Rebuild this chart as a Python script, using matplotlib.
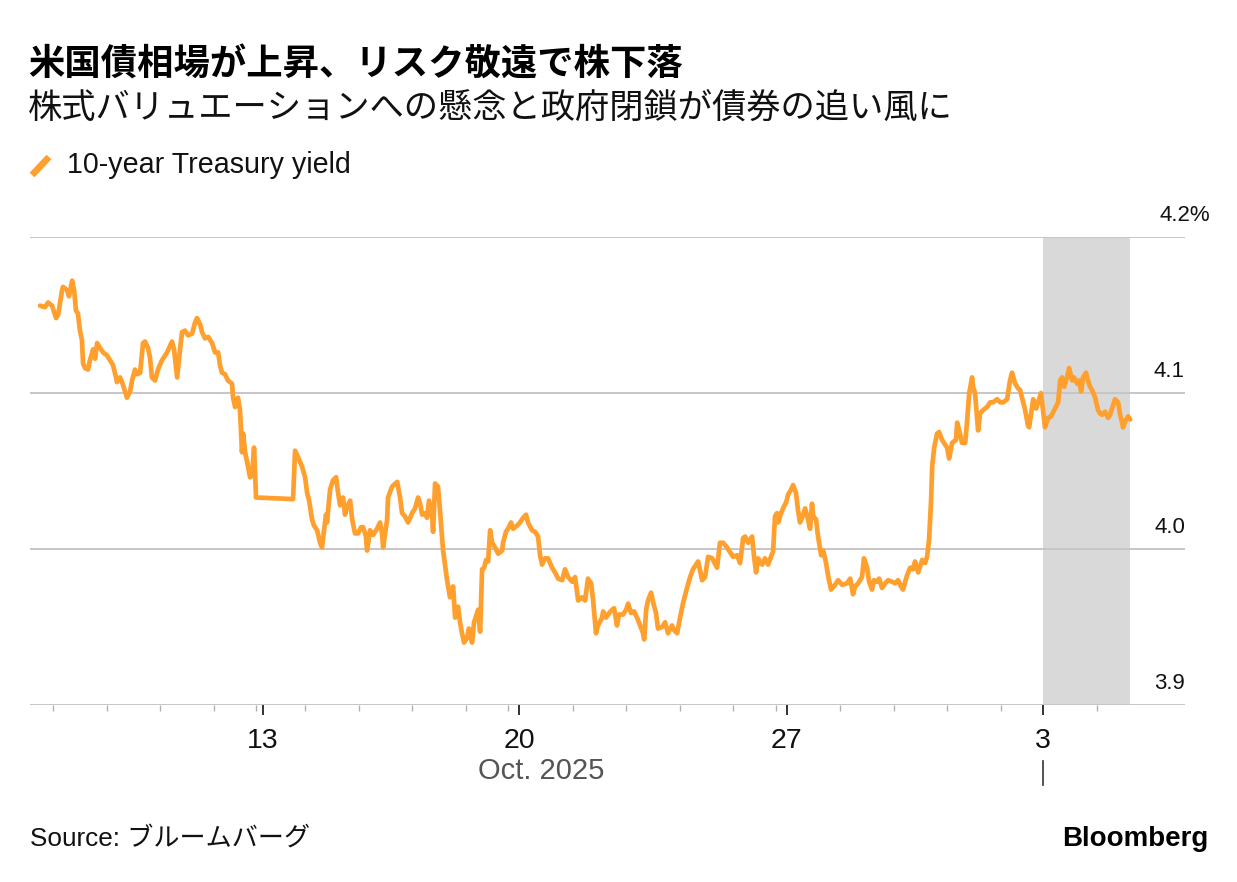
import numpy as np
import pandas as pd
import matplotlib
matplotlib.use("Agg")
import matplotlib.pyplot as plt
from matplotlib.lines import Line2D
import matplotlib.transforms as mtransforms

# ── DATA ───────────────────────────────────────────────────────────────────────
# x axis = trading hours since the first print (Oct 6, evening); weekends removed
BOUNDARY_DATES = ["2025-10-07", "2025-10-08", "2025-10-09", "2025-10-10", "2025-10-12",
                  "2025-10-13", "2025-10-14", "2025-10-15", "2025-10-16", "2025-10-17",
                  "2025-10-19", "2025-10-20", "2025-10-21", "2025-10-22", "2025-10-23",
                  "2025-10-24", "2025-10-26", "2025-10-27", "2025-10-28", "2025-10-29",
                  "2025-10-30", "2025-10-31", "2025-11-03", "2025-11-04"]
BOUNDARY_GAP_H = [6, 24, 24, 24, 19, 3, 19, 24, 24, 24, 19, 5, 24, 24, 24, 24,
                  19, 5, 24, 24, 24, 24, 19, 24]
SHADE_FROM = "2025-11-03"

HOURS = [0.0, 2.2, 3.6, 5.4, 7.2, 8.1, 9.9, 10.3, 12.1, 13.0, 14.4, 15.3, 16.1, 17.0,
         17.9, 18.8, 19.3, 20.2, 21.5, 22.4, 23.8, 24.7, 25.6, 26.9, 28.3, 30.1, 31.4,
         32.7, 34.1, 34.5, 35.9, 36.8, 38.1, 39.0, 40.4, 41.3, 42.6, 43.5, 44.9, 46.2,
         47.1, 48.4, 49.3, 50.2, 51.6, 52.9, 54.7, 57.0, 59.2, 60.1, 61.5, 62.8, 63.7,
         65.0, 66.4, 68.2, 69.5, 70.4, 71.8, 72.7, 74.0, 75.4, 77.2, 78.5, 79.9, 80.7,
         81.6, 83.0, 84.3, 86.1, 86.6, 87.5, 88.8, 89.7, 90.6, 91.1, 92.0, 93.3, 94.2,
         95.1, 96.0, 96.9, 113.5, 114.4, 115.7, 117.5, 118.9, 119.8, 120.7, 122.0,
         122.9, 124.3, 125.6, 126.5, 127.4, 128.3, 128.7, 130.1, 131.4, 132.8, 133.7,
         134.6, 135.9, 136.8, 137.7, 139.1, 140.0, 141.3, 142.7, 144.0, 144.9, 146.2,
         146.7, 148.0, 149.4, 151.2, 152.5, 153.4, 153.9, 155.7, 156.1, 157.9, 160.2,
         161.5, 162.4, 163.7, 165.1, 166.9, 168.2, 169.6, 170.5, 171.4, 172.7, 173.6,
         174.5, 175.9, 176.3, 177.2, 178.5, 179.4, 180.8, 182.6, 183.9, 185.3, 186.2,
         187.5, 188.4, 189.3, 190.2, 191.5, 192.4, 193.8, 194.7, 196.5, 197.4, 198.3,
         199.2, 200.1, 201.0, 201.9, 202.8, 204.1, 205.5, 207.3, 207.7, 209.0, 209.9,
         211.3, 212.2, 214.0, 215.3, 216.7, 218.0, 218.9, 220.7, 222.1, 223.4, 224.3,
         225.2, 226.5, 227.9, 229.7, 231.0, 232.4, 234.2, 235.5, 236.9, 238.7, 240.0,
         241.4, 243.1, 244.5, 245.8, 247.2, 248.1, 249.4, 250.3, 252.1, 252.6, 253.9,
         255.3, 256.6, 257.5, 258.8, 259.7, 261.5, 262.9, 263.8, 265.1, 266.5, 267.8,
         269.2, 270.5, 271.0, 271.9, 272.7, 274.1, 275.0, 276.3, 277.2, 279.0, 280.4,
         281.7, 283.5, 284.4, 285.8, 287.1, 288.4, 290.2, 291.6, 292.9, 294.7, 295.2,
         297.0, 298.3, 299.7, 301.5, 303.7, 305.0, 306.4, 308.2, 309.5, 310.9, 312.7,
         314.0, 315.4, 316.3, 317.6, 319.4, 320.3, 321.2, 322.1, 323.9, 325.2, 326.6,
         328.4, 328.8, 329.7, 330.6, 331.1, 332.4, 333.3, 334.7, 335.6, 336.9, 337.8,
         339.1, 340.0, 340.9, 341.8, 343.2, 344.5, 345.4, 346.3, 346.8, 348.1, 349.0,
         350.4, 351.3, 352.6, 353.5, 354.8, 356.6, 358.0, 359.8, 362.0, 363.4, 364.7,
         365.6, 367.0, 368.7, 369.6, 371.0, 371.9, 373.2, 374.1, 375.5, 376.4, 377.7,
         379.1, 380.4, 382.2, 383.6, 384.9, 386.2, 387.1, 388.9, 390.3, 391.6, 392.5,
         393.9, 395.7, 397.0, 397.9, 398.8, 399.7, 400.2, 401.1, 402.4, 403.3, 404.6,
         406.0, 406.9, 407.8, 409.1, 410.0, 410.9, 411.4, 412.3, 413.6, 415.0, 415.8,
         416.8, 418.1, 418.5, 419.4, 420.8, 421.7, 423.0, 424.8, 426.2, 427.5, 429.3,
         430.7, 432.0, 433.8, 435.1, 436.0, 437.4, 438.7, 439.6, 440.5, 441.9, 443.2,
         443.7, 444.6, 445.5, 446.8, 447.7, 449.0, 449.9, 450.8, 452.2, 453.5, 454.9,
         456.7, 457.6, 458.5, 459.4, 460.7, 461.6, 463.0, 463.9, 465.2, 466.1, 467.0,
         467.9, 469.2, 470.1, 471.0, 471.9, 473.3, 474.6, 475.5, 476.4, 477.8, 479.1,
         480.0, 480.9, 482.2, 483.6, 484.5, 485.4, 485.8, 487.2, 488.1, 489.0]

YIELD_PCT = [4.156, 4.155, 4.158, 4.156, 4.148, 4.150, 4.166, 4.168, 4.166, 4.162, 4.172,
             4.166, 4.153, 4.151, 4.140, 4.134, 4.119, 4.116, 4.115, 4.121, 4.128, 4.122,
             4.132, 4.129, 4.126, 4.124, 4.121, 4.118, 4.110, 4.107, 4.110, 4.107, 4.101,
             4.097, 4.101, 4.108, 4.115, 4.112, 4.113, 4.132, 4.133, 4.129, 4.123, 4.110,
             4.108, 4.115, 4.121, 4.126, 4.133, 4.128, 4.110, 4.128, 4.139, 4.140, 4.137,
             4.138, 4.145, 4.148, 4.144, 4.139, 4.135, 4.136, 4.132, 4.126, 4.126, 4.118,
             4.113, 4.112, 4.108, 4.106, 4.097, 4.091, 4.097, 4.089, 4.062, 4.074, 4.062,
             4.053, 4.046, 4.047, 4.065, 4.033, 4.032, 4.063, 4.059, 4.053, 4.046, 4.036,
             4.031, 4.019, 4.015, 4.012, 4.004, 4.001, 4.012, 4.022, 4.017, 4.038, 4.044,
             4.046, 4.036, 4.028, 4.033, 4.022, 4.027, 4.031, 4.019, 4.010, 4.010, 4.014,
             4.014, 4.008, 3.999, 4.012, 4.009, 4.013, 4.017, 4.010, 4.001, 4.019, 4.033,
             4.040, 4.043, 4.033, 4.023, 4.021, 4.017, 4.023, 4.026, 4.033, 4.029, 4.022,
             4.023, 4.020, 4.031, 4.021, 4.011, 4.042, 4.040, 4.025, 3.999, 3.980, 3.969,
             3.976, 3.956, 3.963, 3.953, 3.946, 3.940, 3.943, 3.949, 3.940, 3.953, 3.961,
             3.947, 3.987, 3.988, 3.993, 3.992, 4.012, 4.004, 4.001, 3.997, 3.999, 4.004,
             4.011, 4.013, 4.017, 4.013, 4.015, 4.017, 4.020, 4.022, 4.017, 4.012, 4.011,
             4.008, 3.996, 3.990, 3.994, 3.994, 3.988, 3.985, 3.981, 3.980, 3.987, 3.982,
             3.979, 3.982, 3.967, 3.969, 3.967, 3.981, 3.978, 3.967, 3.946, 3.951, 3.956,
             3.960, 3.956, 3.959, 3.961, 3.962, 3.951, 3.958, 3.958, 3.961, 3.965, 3.959,
             3.960, 3.956, 3.951, 3.946, 3.942, 3.961, 3.967, 3.972, 3.966, 3.959, 3.949,
             3.950, 3.953, 3.946, 3.951, 3.948, 3.946, 3.956, 3.965, 3.975, 3.982, 3.987,
             3.991, 3.992, 3.980, 3.982, 3.995, 3.994, 3.988, 4.004, 4.004, 4.001, 3.998,
             3.995, 3.996, 3.991, 4.007, 4.008, 4.004, 4.008, 3.995, 3.985, 3.994, 3.990,
             3.994, 3.990, 3.997, 3.998, 4.021, 4.023, 4.017, 4.023, 4.026, 4.030, 4.035,
             4.038, 4.041, 4.036, 4.025, 4.017, 4.020, 4.026, 4.019, 4.013, 4.029, 4.021,
             4.019, 4.008, 3.996, 3.999, 3.991, 3.983, 3.974, 3.977, 3.980, 3.977, 3.978,
             3.981, 3.971, 3.976, 3.978, 3.982, 3.994, 3.988, 3.979, 3.974, 3.980, 3.979,
             3.981, 3.975, 3.978, 3.980, 3.979, 3.978, 3.980, 3.976, 3.974, 3.983, 3.988,
             3.987, 3.992, 3.985, 3.993, 3.991, 3.995, 4.006, 4.031, 4.053, 4.065, 4.074,
             4.075, 4.070, 4.067, 4.065, 4.058, 4.068, 4.069, 4.070, 4.081, 4.076, 4.068,
             4.068, 4.081, 4.100, 4.110, 4.104, 4.100, 4.076, 4.087, 4.089, 4.091, 4.094,
             4.094, 4.096, 4.094, 4.094, 4.096, 4.108, 4.113, 4.106, 4.103, 4.102, 4.097,
             4.089, 4.079, 4.078, 4.087, 4.096, 4.090, 4.094, 4.100, 4.089, 4.078, 4.084,
             4.085, 4.089, 4.094, 4.108, 4.110, 4.104, 4.110, 4.116, 4.108, 4.110, 4.106,
             4.108, 4.101, 4.110, 4.113, 4.108, 4.104, 4.102, 4.097, 4.089, 4.087, 4.086,
             4.088, 4.084, 4.086, 4.090, 4.096, 4.094, 4.086, 4.081, 4.078, 4.083, 4.085,
             4.083]

Y_TICKS = [3.9, 4.0, 4.1, 4.2]
Y_LABELS = ["3.9", "4.0", "4.1", "4.2%"]

TITLE = "米国債相場が上昇、リスク敬遠で株下落"
SUBTITLE = "株式バリュエーションへの懸念と政府閉鎖が債券の追い風に"
LEGEND = "10-year Treasury yield"
MONTH_LABEL = "Oct. 2025"
SOURCE = "Source: ブルームバーグ"

# ── STYLE ──────────────────────────────────────────────────────────────────────
W, H = 1237, 882
LINE_COL = "#FFA02E"
GRID_COL = "#c6c6c6"
SHADE_COL = "#d9d9d9"
LATIN = ["Liberation Sans", "Noto Sans CJK JP", "DejaVu Sans"]
CJK = ["Noto Sans CJK JP", "DejaVu Sans"]
plt.rcParams["font.family"] = LATIN

fig = plt.figure(figsize=(W / 100, H / 100), dpi=100)
fig.patch.set_facecolor("white")

def fx(px): return px / W
def fy(py): return 1 - py / H

ax = fig.add_axes([fx(30), fy(705), fx(1185) - fx(30), fy(237) - fy(705)])

# tick positions on the trading-time axis
pos = np.cumsum(BOUNDARY_GAP_H).astype(float)
dates = pd.to_datetime(BOUNDARY_DATES)
shade_x = pos[list(dates).index(pd.Timestamp(SHADE_FROM))]

ax.axvspan(shade_x, HOURS[-1], color=SHADE_COL, lw=0, zorder=0)
for yv in Y_TICKS:
    ax.axhline(yv, color=GRID_COL, lw=1.4, zorder=1)
ax.plot(HOURS, YIELD_PCT, color=LINE_COL, lw=3.4, solid_joinstyle="round",
        solid_capstyle="round", zorder=3)

ax.set_xlim(-4.5, 513.6)
ax.set_ylim(3.9, 4.2)
for sp in ax.spines.values():
    sp.set_visible(False)
ax.set_yticks([])

major = [p for p, d in zip(pos, dates) if d.weekday() == 0]
major_lab = [str(d.day) for d in dates if d.weekday() == 0]
minor = [p for p, d in zip(pos, dates) if d.weekday() != 0]
ax.set_xticks(major)
ax.set_xticklabels(major_lab)
ax.set_xticks(minor, minor=True)
ax.tick_params(axis="x", which="major", length=7.5, width=1.3, color="#222222",
               labelsize=20.5, pad=9, labelcolor="#111111")
ax.tick_params(axis="x", which="minor", length=4, width=1.0, color="#b0b0b0")

# right-hand y labels above gridlines
trans = mtransforms.blended_transform_factory(ax.transAxes, ax.transData)
for yv, lab in zip(Y_TICKS, Y_LABELS):
    xr = 1.0 if not lab.endswith("%") else 1.0 + 25 / 1155
    ax.text(xr, yv + 0.0072, lab, transform=trans, ha="right", va="bottom",
            fontsize=16, color="#111111")

# month label + month separator
tb = mtransforms.blended_transform_factory(ax.transData, ax.transAxes)
ax.text(shade_x / 2, -0.141, MONTH_LABEL, transform=tb, ha="center", va="center",
        fontsize=21, color="#555555")
ax.add_line(Line2D([shade_x, shade_x], [-0.12, -0.172], transform=tb, color="#333333",
                   lw=1.2, clip_on=False))

# header
fig.text(fx(28), fy(65), TITLE, family=CJK, fontsize=26.2, fontweight="bold",
         va="center", ha="left", color="#000000")
fig.text(fx(28), fy(108), SUBTITLE, family=CJK, fontsize=24.7, va="center",
         ha="left", color="#111111")
fig.add_artist(Line2D([fx(32), fx(49)], [fy(175), fy(157)], color=LINE_COL, lw=4.8,
                      solid_capstyle="butt"))
fig.text(fx(67), fy(165), LEGEND, fontsize=20.6, va="center", ha="left", color="#111111")

# footer
fig.text(fx(30), fy(839), SOURCE, fontsize=18.8, va="center", ha="left", color="#111111")
fig.text(fx(1208), fy(839), "Bloomberg", fontsize=20, fontweight="bold", va="center",
         ha="right", color="#000000")

fig.savefig("out.png", dpi=100, facecolor="white")
